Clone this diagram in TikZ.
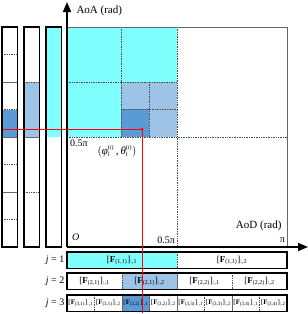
\documentclass[tikz,border=0pt]{standalone}
\usepackage{fontspec}
\setmainfont{Liberation Serif}
\usetikzlibrary{arrows.meta}
\definecolor{cyanfill}{RGB}{128,255,255}
\definecolor{lightblue}{RGB}{157,195,230}
\definecolor{darkblue}{RGB}{91,155,213}
\newcommand{\Fcol}[2]{[\textbf{F}\textsubscript{(#1)}]\textsubscript{:,#2}}
\newcommand{\angsym}[1]{$\mbox{\textit{#1}}_{\mbox{\fontsize{6}{7}\selectfont\textit{l}}}^{\mbox{\fontsize{6}{7}\selectfont(\textit{i})}}$}
\begin{document}
\begin{tikzpicture}[x=1pt, y=-1pt,
    bar/.style={draw=black, line width=1.5pt},
    grid/.style={densely dotted, line width=0.7pt, draw=black!70},
    thin/.style={line width=0.5pt, draw=black!60},
    axis/.style={line width=1.6pt, -{Triangle[length=10pt,width=8pt]}},
    lbl/.style={inner sep=0pt, font=\fontsize{9}{10}\selectfont},
    small/.style={inner sep=0pt, font=\fontsize{7}{8}\selectfont}]
    \useasboundingbox (0,0) rectangle (308,314);
    % angle grid
    \fill[cyanfill] (67,27) rectangle (177,137);
    \fill[lightblue] (121,82) rectangle (177,137);
    \fill[darkblue] (121,109) rectangle (149,137);
    \draw[grid] (121,27) -- (121,137);
    \draw[grid] (67,82) -- (177,82);
    \draw[grid] (149,82) -- (149,137);
    \draw[grid] (121,109) -- (177,109);
    \draw[grid] (177,27) -- (177,247);
    \draw[grid] (67,137) -- (287,137);
    \draw[thin] (67,27) -- (287,27) -- (287,247);
    % codebook columns
    \fill[cyanfill] (46,27) rectangle (62,137);
    \fill[lightblue] (24,82) rectangle (40,137);
    \fill[darkblue] (2,109.5) rectangle (17,137);
    \foreach \y in {54.5,109.5,164.5,219.5}
        \draw[grid] (2,\y) -- (17,\y);
    \foreach \y in {82,137,192}
        \draw[thin] (2,\y) -- (17,\y);
    \foreach \y in {82,192}
        \draw[grid] (24,\y) -- (40,\y);
    \draw[thin] (24,137) -- (40,137);
    \foreach \x in {2,24,46}
        \draw[bar] (\x,27) rectangle (\x+15.5,247);
    % codebook rows
    \fill[cyanfill] (67,252) rectangle (177,268);
    \fill[lightblue] (122,273) rectangle (177,290);
    \fill[darkblue] (122,295) rectangle (149.5,312);
    \draw[grid] (177,252) -- (177,268);
    \foreach \x in {122,232}
        \draw[grid] (\x,273) -- (\x,290);
    \draw[thin] (177,273) -- (177,290);
    \foreach \x in {94.5,149.5,204.5,259.5}
        \draw[grid] (\x,295) -- (\x,312);
    \foreach \x in {122,177,232}
        \draw[thin] (\x,295) -- (\x,312);
    \foreach \j/\y in {1/252,2/273,3/295} {
        \draw[bar] (67,\y) rectangle (287,\y+16.5);
        \node[anchor=east, inner sep=0pt, font=\fontsize{10}{11}\selectfont] (j\j) at (64.5,\y+8.5) {\textit{j} = \j};
    }
    \foreach \k in {1,2}
        \node[lbl] (f1-\k) at (67+110*\k-55,260.5) {\Fcol{1,1}{\k}};
    \foreach \n/\m/\k in {1/1/1,2/1/2,3/2/1,4/2/2}
        \node[lbl] (f2-\n) at (67+55*\n-27.5,281.5) {\Fcol{2,\m}{\k}};
    \foreach \n/\m/\k in {1/1/1,2/1/2,3/2/1,4/2/2,5/3/1,6/3/2,7/4/1,8/4/2}
        \node[small] (f3-\n) at (67+27.5*\n-13.75,303.5) {\Fcol{3,\m}{\k}};
    % axes
    \coordinate (O) at (67,247);
    \coordinate (ytip) at (67,2);
    \coordinate (xtip) at (308,247);
    \draw[axis] (O) -- (ytip);
    \draw[axis] (O) -- (xtip);
    \node[anchor=west, font=\fontsize{11}{12}\selectfont] (aoa) at (73,11) {AoA (rad)};
    \node[anchor=east, font=\fontsize{11}{12}\selectfont] (aod) at (285,226) {AoD (rad)};
    \node[anchor=west, inner sep=0pt, font=\fontsize{10}{11}\selectfont] (origin) at (72,237) {\textit{O}};
    \node[anchor=east, inner sep=0pt, font=\fontsize{10}{11}\selectfont] (halfx) at (175,240) {0.5π};
    \node[anchor=east, inner sep=0pt, font=\fontsize{10}{11}\selectfont] (pix) at (285,240) {π};
    \node[anchor=west, inner sep=0pt, font=\fontsize{10}{11}\selectfont] (halfy) at (70,143) {0.5π};
    \node[font=\fontsize{11}{12}\selectfont] (pt) at (117,151) {$\bigl($\angsym{φ}\,,\,\angsym{θ}$\bigr)$};
    % selected direction
    \coordinate (sel) at (142,129);
    \coordinate (selleft) at (3,129);
    \coordinate (seldown) at (142,313);
    \draw[red, line width=0.8pt] (selleft) -- (sel) -- (seldown);
    \fill[red] (sel) circle (1.5pt);
\end{tikzpicture}
\end{document}
